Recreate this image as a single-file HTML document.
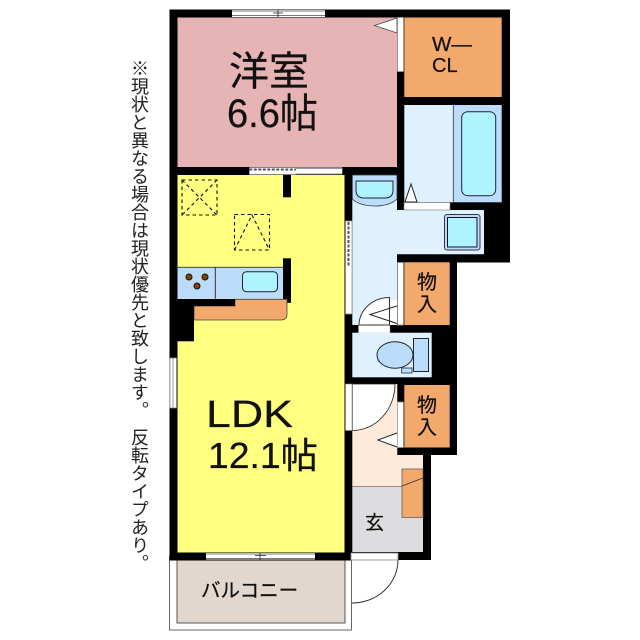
<!DOCTYPE html>
<html><head><meta charset="utf-8"><style>
html,body{margin:0;padding:0;background:#fff;width:640px;height:640px;overflow:hidden}
svg{position:absolute;left:0;top:0}
text{font-family:"Liberation Sans","Noto Sans CJK JP",sans-serif;fill:#111;stroke:#111;stroke-width:.25}
.v{position:absolute;left:130px;top:59px;writing-mode:vertical-rl;font:18px/18px "Liberation Sans","Noto Sans CJK JP",sans-serif;color:#222;white-space:pre}
</style></head><body>
<svg width="640" height="640" viewBox="0 0 640 640">
<!-- balcony -->
<rect x="169.5" y="556" width="182" height="74" fill="#fff" stroke="#666" stroke-width="1"/>
<rect x="177" y="560" width="168" height="63" fill="#E1D7CF" stroke="#555" stroke-width="1"/>
<!-- black base -->
<rect x="169.5" y="9.5" width="182" height="551" fill="#000"/>
<rect x="345" y="9.5" width="165" height="253" fill="#000"/>
<rect x="345" y="262" width="112" height="193" fill="#000"/>
<rect x="345" y="455" width="86" height="105" fill="#000"/>
<!-- rooms -->
<rect x="177.5" y="17.5" width="219.500" height="149.500" fill="#E6B4B4"/>
<rect x="177.500" y="175" width="167" height="377.500" fill="#FFFF80"/>
<rect x="404.300" y="17.500" width="97.400" height="79.500" fill="#F2A96B"/>
<rect x="404.300" y="105" width="49" height="97.300" fill="#DFF1FF"/>
<rect x="453.300" y="105" width="48.400" height="97.300" fill="#BBDDFB"/>
<line x1="453.300" y1="105" x2="453.300" y2="202" stroke="#333" stroke-width="0.800"/>
<rect x="461.700" y="111.700" width="34" height="84" rx="6" fill="#AFF3FF" stroke="#223" stroke-width="1"/>
<!-- washroom -->
<path d="M352.300 175H397V210H484V254.300H397V325H352.300Z" fill="#DFF1FF"/>
<path d="M352.300 175H397V199Q390 206 375 206Q360 206 352.300 199Z" fill="#BBDDFB" stroke="#334" stroke-width="0.800"/>
<path d="M356 181H393V190Q393 198 385 198H364Q356 198 356 190Z" fill="#AFF3FF" stroke="#223" stroke-width="1"/>
<rect x="444.500" y="214.500" width="35.500" height="35.500" rx="2.500" fill="#BBDDFB" stroke="#334" stroke-width="1"/>
<rect x="447.500" y="217.500" width="29.500" height="29.500" fill="#AFF3FF" stroke="#112" stroke-width="1"/>
<!-- bath door -->
<rect x="404" y="202.500" width="46" height="7.500" fill="#fff" stroke="#777" stroke-width="0.600"/>
<path d="M411 184L405 202H417Z" fill="#fff" stroke="#222" stroke-width="1"/>
<!-- storage -->
<rect x="404.300" y="262.300" width="45.400" height="62.700" fill="#F2A96B"/>
<rect x="397.500" y="262.500" width="6" height="62.500" fill="#fff" stroke="#888" stroke-width="1"/>
<rect x="404.300" y="385" width="45.400" height="62.500" fill="#F2A96B"/>
<rect x="397.500" y="402" width="6" height="45.500" fill="#fff" stroke="#888" stroke-width="0.800"/>
<!-- washroom door -->
<rect x="358.500" y="325" width="31.500" height="8" fill="#fff" stroke="#888" stroke-width="0.500"/>
<path d="M359 325A30.500 28 0 0 1 389.500 297.500V325Z" fill="#fff" stroke="#333" stroke-width="1"/>
<rect x="390" y="300" width="7" height="25" fill="#fff"/>
<path d="M397 306L370 314.500L397 323.500" fill="none" stroke="#222" stroke-width="1"/>
<!-- toilet -->
<rect x="352.300" y="332.700" width="79.400" height="44.600" fill="#DFF1FF"/>
<rect x="401.700" y="368" width="10.300" height="5" fill="#BBDDFB" stroke="#223" stroke-width="0.800"/>
<ellipse cx="395" cy="355" rx="18" ry="13.300" fill="#BBDDFB" stroke="#223" stroke-width="1"/>
<rect x="413.500" y="338.500" width="15" height="33" fill="#BBDDFB" stroke="#223" stroke-width="1"/>
<!-- entry -->
<rect x="352.300" y="384" width="45" height="103" fill="#FDEADB"/>
<rect x="397" y="455" width="26" height="32" fill="#FDEADB"/>
<rect x="352.300" y="487" width="70.700" height="65" fill="#DDDDDF"/>
<line x1="352" y1="486.700" x2="402" y2="486.700" stroke="#555" stroke-width="0.700"/>
<rect x="402" y="469" width="21" height="48.500" fill="#F2A96B" stroke="#555" stroke-width="0.700"/>
<line x1="402" y1="486" x2="423" y2="478" stroke="#333" stroke-width="0.800"/>
<path d="M352.300 384V430.500A42.700 46.500 0 0 0 395 384Z" fill="#fff" stroke="#222" stroke-width="0.800"/>
<rect x="345.500" y="384" width="6.500" height="46.500" fill="#fff" stroke="#888" stroke-width="0.600"/>
<path d="M397 433L378 440L397 447" fill="#fff" stroke="#222" stroke-width="1"/>
<!-- entrance door -->
<rect x="351" y="553" width="47" height="7" fill="#fff" stroke="#888" stroke-width="0.800"/>
<path d="M398 560A46 43 0 0 1 352 603" fill="none" stroke="#333" stroke-width="1"/>
<line x1="351.500" y1="560" x2="351.500" y2="630" stroke="#666" stroke-width="1"/>
<!-- windows -->
<rect x="232" y="10" width="93" height="7" fill="#fff"/>
<path d="M232 11H280M232 15.500H280M278 11H325M278 15.500H325" stroke="#777" stroke-width="1"/>
<path d="M278 9.500V17M273 13H283" stroke="#222" stroke-width="0.800"/>
<rect x="249.300" y="167.500" width="93" height="7" fill="#fff"/>
<path d="M249.300 169.500H296" stroke="#555" stroke-width="2" stroke-dasharray="3 1.500"/>
<path d="M296 168.500H342M296 174H342" stroke="#777" stroke-width="0.800"/>
<rect x="345.500" y="221" width="6.500" height="93" fill="#fff" stroke="#888" stroke-width="0.700"/>
<path d="M348.500 222V266" stroke="#555" stroke-width="2" stroke-dasharray="3 1.500"/>
<rect x="170" y="358" width="6.500" height="50" fill="#fff" stroke="#888" stroke-width="0.700"/>
<line x1="173" y1="358" x2="173" y2="408" stroke="#888" stroke-width="0.800"/>
<rect x="206" y="553" width="109" height="6.500" fill="#fff"/>
<path d="M206 554H262M206 558.500H262M260 554H315M260 558.500H315" stroke="#777" stroke-width="0.900"/>
<path d="M260 552.500V559.500M255 555.500H266" stroke="#222" stroke-width="0.800"/>
<!-- white door to closet -->
<rect x="397.500" y="17.500" width="6" height="54" fill="#fff" stroke="#aaa" stroke-width="0.500"/>
<path d="M397 18L374.500 25.500L397 33Z" fill="#fff" stroke="#444" stroke-width="0.800"/>
<!-- kitchen -->
<rect x="177.500" y="267.300" width="105.500" height="31.500" fill="#BBDDFB"/>
<line x1="177.500" y1="267.300" x2="283" y2="267.300" stroke="#333" stroke-width="0.800"/>
<line x1="215.300" y1="267.300" x2="215.300" y2="298.800" stroke="#333" stroke-width="1"/>
<rect x="242.500" y="271.700" width="35" height="20" rx="4" fill="#AFF3FF" stroke="#223" stroke-width="1"/>
<g fill="#8B4000" stroke="#111" stroke-width="1"><circle cx="189" cy="277" r="3"/><circle cx="205" cy="277" r="3"/><circle cx="197" cy="286" r="3"/></g>
<rect x="283" y="175" width="8" height="22.300" fill="#000"/>
<rect x="283" y="258.300" width="8" height="44.500" fill="#000"/>
<path d="M194 306H235V299.300H287V314Q287 320 281 320H194Z" fill="#F2A96B" stroke="#444" stroke-width="0.800"/>
<rect x="177" y="299" width="58" height="7" fill="#000"/>
<rect x="177" y="299" width="17" height="42.300" fill="#000"/>
<!-- dashed -->
<g fill="none" stroke="#111" stroke-width="1.100" stroke-dasharray="3.500 3">
<rect x="182" y="180" width="35" height="35"/>
<path d="M182 180L217 215M217 180L182 215"/>
<rect x="234.500" y="214.500" width="35" height="35.500"/>
<path d="M234.500 250L252 215L269.500 250"/>
</g>
<!-- labels -->
<text x="229" y="85" font-size="40">洋室</text>
<text x="227" y="127" font-size="40" textLength="91" lengthAdjust="spacingAndGlyphs">6.6帖</text>
<text x="206" y="427" font-size="38" textLength="87" lengthAdjust="spacingAndGlyphs">LDK</text>
<text x="208" y="468" font-size="36" textLength="110" lengthAdjust="spacingAndGlyphs">12.1帖</text>
<text x="432" y="51" font-size="20" textLength="40" lengthAdjust="spacingAndGlyphs">W—</text>
<text x="432" y="72" font-size="20">CL</text>
<text x="417" y="289" font-size="20">物</text>
<text x="417" y="311" font-size="20">入</text>
<text x="417" y="412" font-size="20">物</text>
<text x="417" y="434" font-size="20">入</text>
<text x="365" y="529" font-size="19">玄</text>
<text x="201" y="597" font-size="19.500">バルコニー</text>
</svg>
<div class="v">※現状と異なる場合は現状優先と致します。&#8194;反転タイプあり。</div>
</body></html>
